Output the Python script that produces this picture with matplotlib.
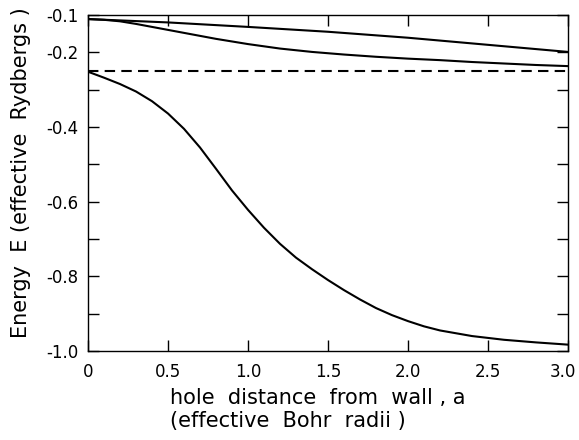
import numpy as np
import matplotlib
matplotlib.use("Agg")
import matplotlib.pyplot as plt
from matplotlib.transforms import ScaledTranslation

# values
x_upper = [0.0, 0.5, 1.0, 1.5, 2.0, 2.5, 3.0]
e_upper = [-0.111, -0.120, -0.132, -0.145, -0.161, -0.180, -0.199]

x_middle = [0.0, 0.1, 0.2, 0.3, 0.4, 0.5, 0.6, 0.7, 0.8, 0.9, 1.0, 1.2,
            1.4, 1.6, 1.8, 2.0, 2.2, 2.4, 2.6, 2.8, 3.0]
e_middle = [-0.111, -0.113, -0.117, -0.124, -0.132, -0.140, -0.148, -0.156,
            -0.164, -0.171, -0.178, -0.190, -0.199, -0.206, -0.212, -0.217,
            -0.221, -0.226, -0.230, -0.234, -0.237]

x_lower = [0.0, 0.1, 0.2, 0.3, 0.4, 0.5, 0.6, 0.7, 0.8, 0.9, 1.0, 1.1, 1.2,
           1.3, 1.4, 1.5, 1.6, 1.7, 1.8, 1.9, 2.0, 2.1, 2.2, 2.4, 2.6, 2.8, 3.0]
e_lower = [-0.252, -0.268, -0.285, -0.305, -0.331, -0.364, -0.405, -0.455,
           -0.512, -0.570, -0.622, -0.670, -0.713, -0.750, -0.781, -0.810,
           -0.837, -0.862, -0.885, -0.904, -0.920, -0.934, -0.945, -0.960,
           -0.970, -0.977, -0.983]

e_bulk = -0.25  # dashed reference level

x_ticks = [0, 0.5, 1.0, 1.5, 2.0, 2.5, 3.0]
x_ticklabels = ["0", "0.5", "1.0", "1.5", "2.0", "2.5", "3.0"]
y_ticks = [-1.0, -0.9, -0.8, -0.7, -0.6, -0.5, -0.4, -0.3, -0.2, -0.1]
y_ticklabels = ["-1.0", "", "-0.8", "", "-0.6", "", "-0.4", "", "-0.2", "-0.1"]

plt.rcParams['font.family'] = ['DejaVu Sans']

fig = plt.figure(figsize=(5.79, 4.40), dpi=100)
ax = fig.add_axes([0.152, 0.2023, 0.829, 0.7637])

lw = 1.5
ax.plot(x_upper, e_upper, color='black', lw=lw)
ax.plot(x_middle, e_middle, color='black', lw=lw)
ax.plot(x_lower, e_lower, color='black', lw=lw)
ax.axhline(e_bulk, color='black', lw=lw, dashes=(5, 3))

ax.set_xlim(0, 3.0)
ax.set_ylim(-1.0, -0.1)
ax.set_xticks(x_ticks)
ax.set_xticklabels(x_ticklabels)
ax.set_yticks(y_ticks)
ax.set_yticklabels(y_ticklabels)

ax.tick_params(direction='in', length=8, width=1, top=True, right=True,
               labelsize=12, pad=7)
ax.tick_params(axis='x', pad=9)
for s in ax.spines.values():
    s.set_linewidth(1)

# last x label sits a bit left in the original so it stays inside the page
lbl = ax.get_xticklabels()[-1]
lbl.set_transform(lbl.get_transform() + ScaledTranslation(-5 / 100, 0, fig.dpi_scale_trans))

fig.text(0.037, 0.607, "Energy  E (effective  Rydbergs )", fontsize=15,
         rotation=90, ha='center', va='center')
fig.text(0.294, 0.02, "hole  distance  from  wall , a\n(effective  Bohr  radii )",
         fontsize=15, ha='left', va='bottom', multialignment='left',
         linespacing=1.2)

fig.savefig("out.png", dpi=100)
